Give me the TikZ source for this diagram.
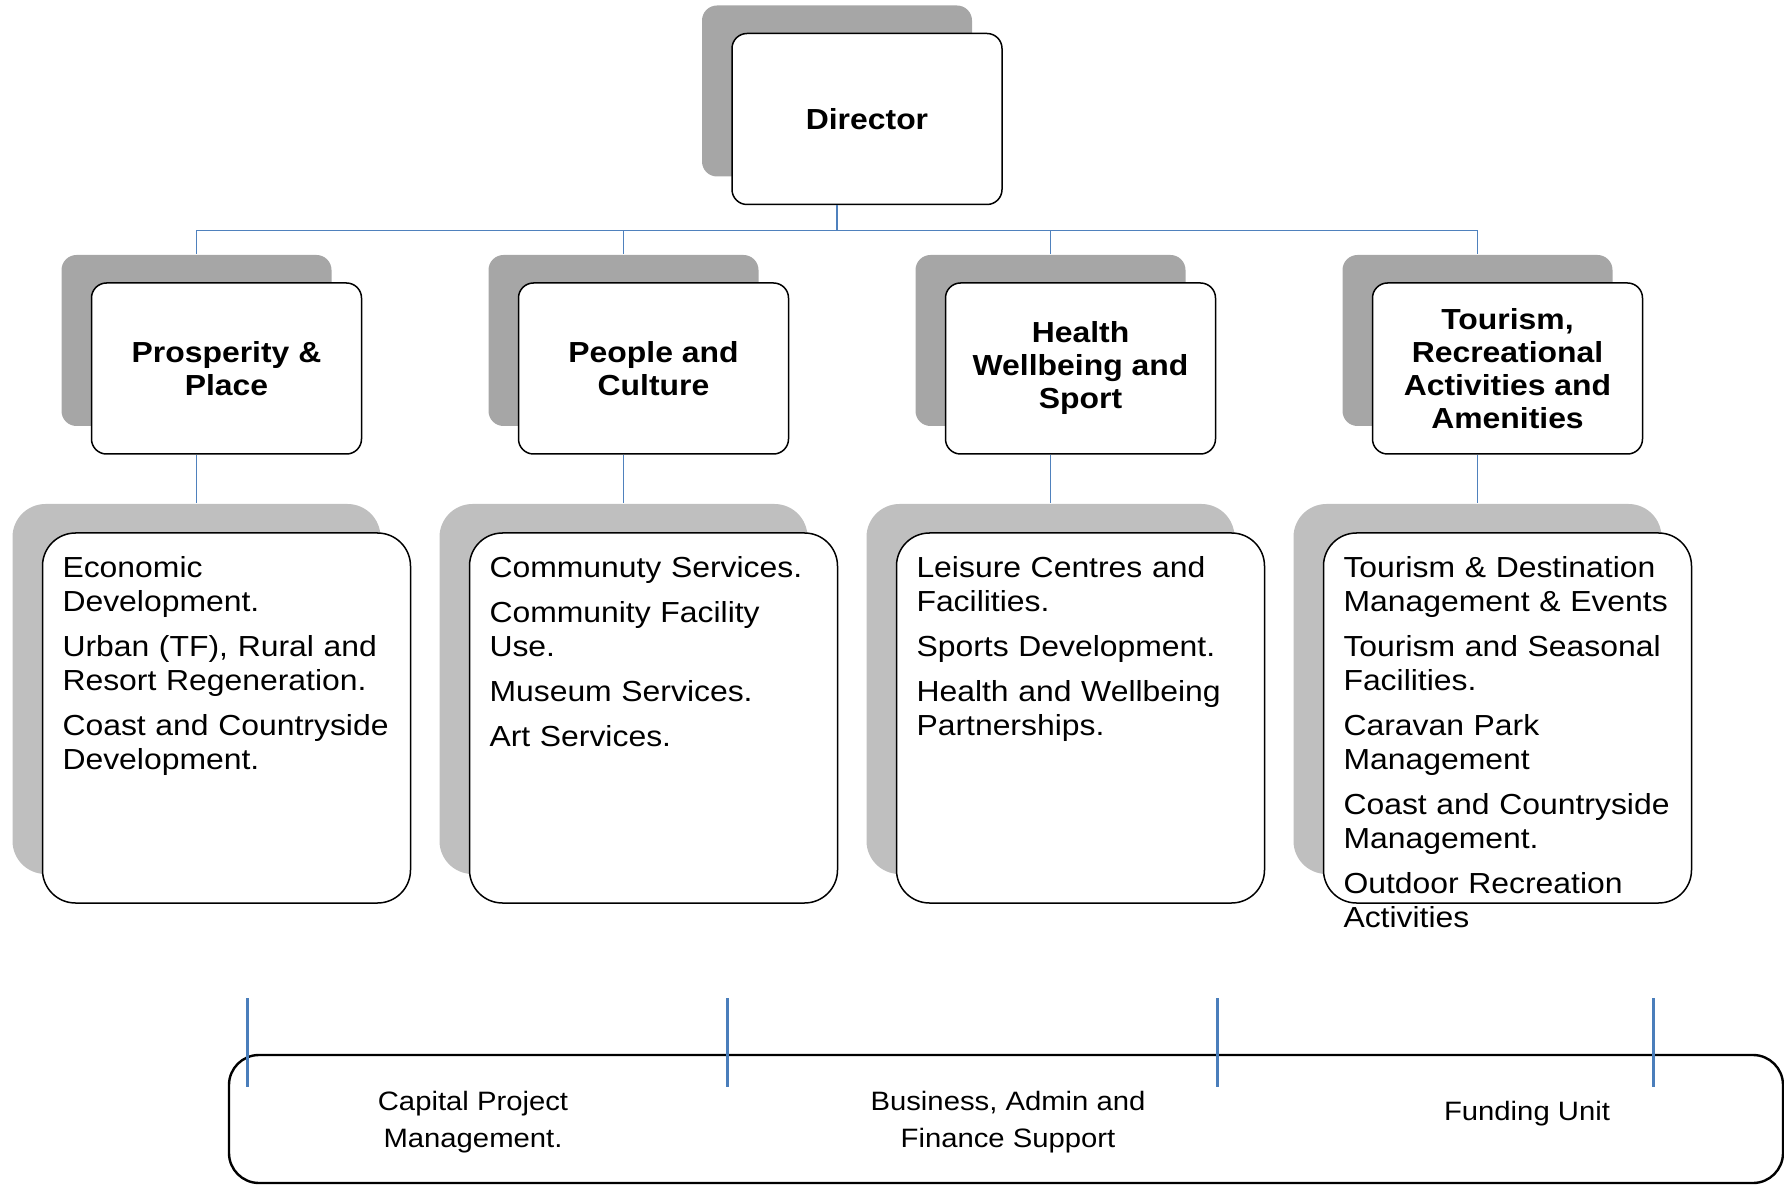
\documentclass[tikz,border=0pt]{standalone}
\usepackage{fontspec}
\setmainfont{Liberation Sans}[FakeStretch=1.1]
\usetikzlibrary{trees, shadows}

\definecolor{linkblue}{HTML}{4F81BD}
\definecolor{tickblue}{HTML}{4A7EBB}
\definecolor{shadeA}{HTML}{A6A6A6}
\definecolor{shadeB}{HTML}{BFBFBF}

\tikzset{
  unitbox/.style={draw=black, text=black, fill=white, line width=0.75pt, rounded corners=7.5pt,
    minimum width=135pt, minimum height=85.5pt, align=center,
    font=\fontsize{14.5pt}{16.5pt}\selectfont\bfseries,
    general shadow={fill=shadeA, draw=none, shadow xshift=-15pt, shadow yshift=14pt}},
  listbox/.style={draw=black, text=black, fill=white, line width=0.75pt, rounded corners=16.5pt,
    text width=164pt, inner xsep=10pt, inner ysep=0pt, align=left,
    text height=22.25pt, text depth=162.75pt,
    font=\fontsize{14.5pt}{17pt}\selectfont,
    general shadow={fill=shadeB, draw=none, shadow xshift=-15pt, shadow yshift=14.5pt}},
  basebar/.style={draw=black, line width=1.2pt, rounded corners=15pt,
    minimum width=777pt, minimum height=64pt},
  basetext/.style={align=center, font=\fontsize{13.3pt}{18.8pt}\selectfont},
  tick/.style={draw=tickblue, line width=1.5pt}
}

\begin{document}
\begin{tikzpicture}[x=0.5pt, y=-0.5pt,
    edge from parent/.style={draw=linkblue, line width=0.6pt},
    level 1/.style={sibling distance=213.5pt, level distance=124.75pt,
      edge from parent path={([xshift=-15pt]\tikzparentnode.south) -- ++(0,-12.75pt)
        -| ([xshift=-15pt,yshift=14pt]\tikzchildnode.north)}},
    level 2/.style={level distance=174.75pt,
      edge from parent path={([xshift=-15pt]\tikzparentnode.south)
        -- ([xshift=-15pt,yshift=14.5pt]\tikzchildnode.north)}}]
    \useasboundingbox (0,0) rectangle (1784,1187);

    \node[unitbox] (dir) at (867,119) {Director}
        child {
          node[unitbox] (pp) {Prosperity \&\\Place}
          child {node[listbox] (pplist) {Economic\\Development.\\[5.5pt]Urban (TF), Rural and\\Resort Regeneration.\\[5.5pt]Coast and Countryside\\Development.}}
        }
        child {
          node[unitbox] (pc) {People and\\Culture}
          child {node[listbox] (pclist) {Communuty Services.\\[5.5pt]Community Facility\\Use.\\[5.5pt]Museum Services.\\[5.5pt]Art Services.}}
        }
        child {
          node[unitbox] (hw) {Health\\Wellbeing and\\Sport}
          child {node[listbox] (hwlist) {Leisure Centres and\\Facilities.\\[5.5pt]Sports Development.\\[5.5pt]Health and Wellbeing\\Partnerships.}}
        }
        child {
          node[unitbox] (tr) {Tourism,\\Recreational\\Activities and\\Amenities}
          child {node[listbox] (trlist) {Tourism \& Destination\\Management \& Events\\[5.5pt]Tourism and Seasonal\\Facilities.\\[5.5pt]Caravan Park\\Management\\[5.5pt]Coast and Countryside\\Management.\\[5.5pt]Outdoor Recreation\\Activities}}
        };

    % shared support services
    \node[basebar] (bar) at (1006,1119) {};
    \node[basetext] (cpm) at (473,1122) {Capital Project\\Management.};
    \node[basetext] (baf) at (1008,1122) {Business, Admin and\\Finance Support};
    \node[basetext] (fund) at (1527,1114) {Funding Unit};

    \foreach \x [count=\i] in {247,727,1217,1653} {
        \coordinate (t\i top) at (\x,998);
        \coordinate (t\i bot) at (\x,1087);
        \draw[tick] (t\i top) -- (t\i bot);
    }
\end{tikzpicture}
\end{document}
